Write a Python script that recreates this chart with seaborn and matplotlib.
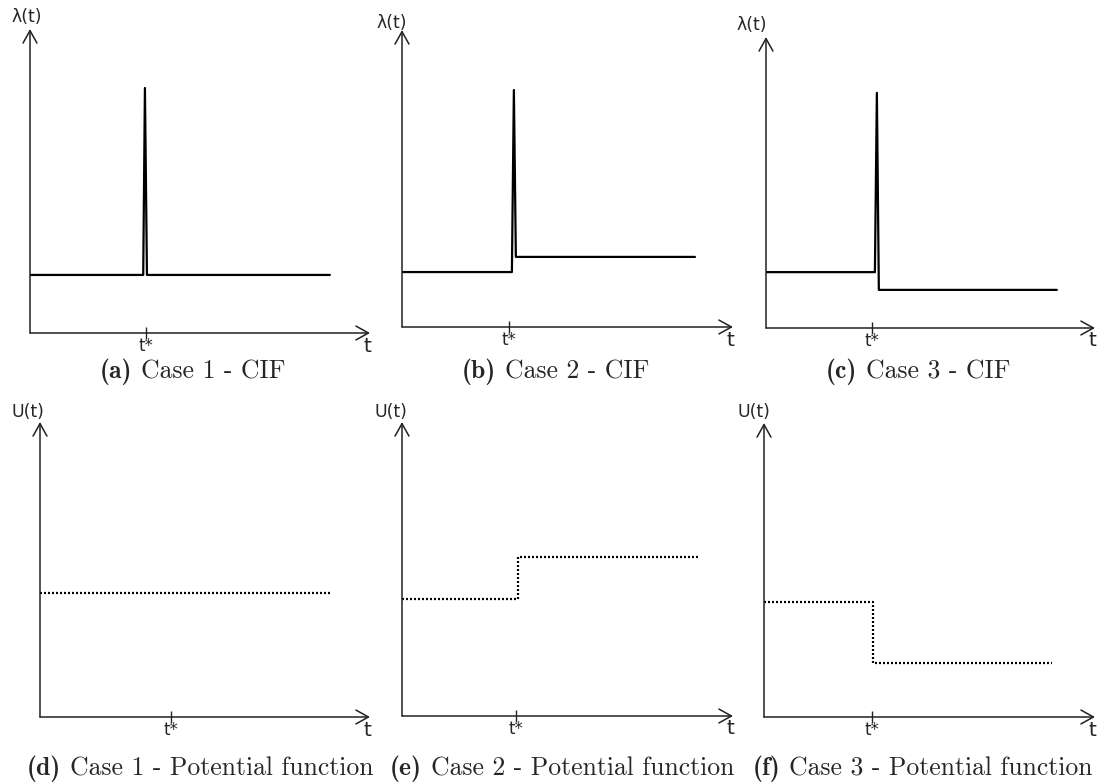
import matplotlib
matplotlib.use("Agg")
import matplotlib.pyplot as plt
import seaborn as sns
import pandas as pd

# ---------------- data (axis units: 0 = origin, 10 = arrow tip) ----------------
cif1_t = [0, 3.33, 3.38, 3.44, 8.82]
cif1_y = [1.91, 1.91, 8.06, 1.91, 1.91]
cif2_t = [0, 3.32, 3.38, 3.44, 8.85]
cif2_y = [1.85, 1.85, 7.98, 2.36, 2.36]
cif3_t = [0, 3.31, 3.37, 3.43, 8.84]
cif3_y = [1.92, 1.92, 8.08, 1.31, 1.31]
pot1_t = [0, 8.79]
pot1_y = [4.20, 4.20]
pot2_t = [0, 3.50, 3.50, 8.94]
pot2_y = [3.98, 3.98, 5.41, 5.41]
pot3_t = [0, 3.29, 3.29, 8.70]
pot3_y = [3.91, 3.91, 1.84, 1.84]
t_star = [3.41, 3.23, 3.22, 3.97, 3.44, 3.26]
y_labels = ["λ(t)", "λ(t)", "λ(t)", "U(t)", "U(t)", "U(t)"]
tags = ["(a)", "(b)", "(c)", "(d)", "(e)", "(f)"]
captions = ["Case 1 - CIF", "Case 2 - CIF", "Case 3 - CIF",
            "Case 1 - Potential function", "Case 2 - Potential function",
            "Case 3 - Potential function"]

series = [(cif1_t, cif1_y), (cif2_t, cif2_y), (cif3_t, cif3_y),
          (pot1_t, pot1_y), (pot2_t, pot2_y), (pot3_t, pot3_y)]

# ---------------- layout (pixels) ----------------
W, H = 1106, 784
# origin x, origin y, arrow tip x, arrow tip y
boxes = [(30, 333, 370, 29), (402, 327, 733, 30), (766, 328, 1095, 37),
         (40, 717, 370, 422), (402, 716, 733, 422), (764, 717, 1095, 423)]
ylab_off = [(-3, 12), (-10, 7), (-14, 12), (-12, 10), (-11, 10), (-10, 11)]
cap_x = [100, 462, 826, 27, 390, 753]
cap_y = [378, 378, 378, 775, 775, 775]

sns.set_style("white")
plt.rcParams["font.family"] = ["DejaVu Sans"]

fig = plt.figure(figsize=(W / 100, H / 100), dpi=100)

axis_col = "#222222"
for i in range(6):
    ox, oy, tx, ty = boxes[i]
    ax = fig.add_axes([ox / W, 1 - oy / H, (tx - ox) / W, (oy - ty) / H])
    ax.set_xlim(0, 10)
    ax.set_ylim(0, 10)
    for s in ax.spines.values():
        s.set_visible(False)
    t, y = series[i]
    df = pd.DataFrame({"t": t, "y": y})
    if i < 3:
        sns.lineplot(data=df, x="t", y="y", ax=ax, estimator=None, sort=False,
                     color="black", linewidth=1.6)
    else:
        sns.lineplot(data=df, x="t", y="y", ax=ax, estimator=None, sort=False,
                     color="black", linewidth=1.6, linestyle=(0, (0.9, 0.9)))
    ax.set_xlabel("")
    ax.set_ylabel("")
    # axes with open arrow heads
    arrow = dict(arrowstyle="->,head_length=0.9,head_width=0.5", color=axis_col,
                 lw=1.1, mutation_scale=10, shrinkA=0, shrinkB=0)
    ax.annotate("", xy=(10, 0), xytext=(0, 0), arrowprops=arrow, annotation_clip=False)
    ax.annotate("", xy=(0, 10), xytext=(0, 0), arrowprops=arrow, annotation_clip=False)
    # t* tick
    ax.set_xticks([t_star[i]])
    ax.set_xticklabels(["t*"])
    ax.set_yticks([])
    ax.tick_params(axis="x", direction="inout", length=9, width=1.0, color=axis_col,
                   pad=-1.5, labelsize=12, bottom=True)
    # axis labels
    ax.annotate("t", xy=(10, 0), xytext=(-3, -13), textcoords="offset pixels",
                ha="center", va="center", fontsize=14.5, annotation_clip=False)
    dx, dy = ylab_off[i]
    ax.annotate(y_labels[i], xy=(0, 10), xytext=(dx, dy), textcoords="offset pixels",
                ha="center", va="center", fontsize=12.5, annotation_clip=False)

# captions: bold tag + regular text in Computer Modern
cap_size = 18.5
fig.canvas.draw()
renderer = fig.canvas.get_renderer()
for i in range(6):
    x0 = cap_x[i] / W
    y0 = 1 - cap_y[i] / H
    tb = fig.text(x0, y0, tags[i], fontfamily="cmb10", fontsize=cap_size,
                  ha="left", va="baseline")
    wpx = tb.get_window_extent(renderer).width
    fig.text(x0 + (wpx + 0.333 * cap_size * 100 / 72) / W, y0, captions[i],
             fontfamily="cmr10", fontsize=cap_size, ha="left", va="baseline")

fig.savefig("out.png", dpi=100)
